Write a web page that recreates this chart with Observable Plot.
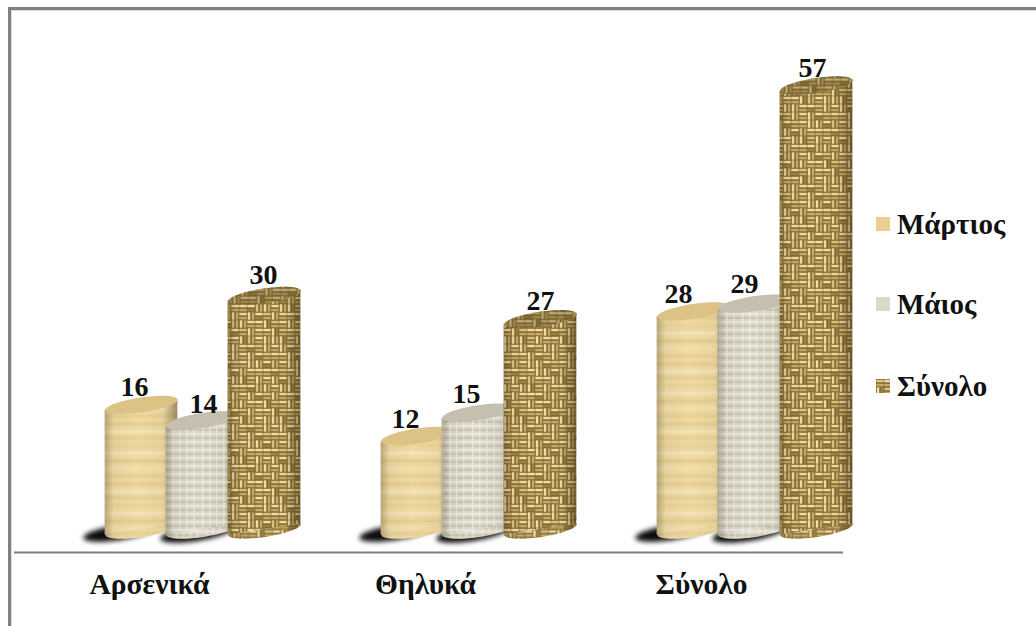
<!DOCTYPE html>
<html><head><meta charset="utf-8">
<script src="https://cdn.jsdelivr.net/npm/d3@7"></script>
<script src="https://cdn.jsdelivr.net/npm/@observablehq/plot@0.6"></script>
<style>
html,body{margin:0;padding:0;background:#fff}
#wrap{position:relative;width:1036px;height:626px;overflow:hidden;font-family:"Liberation Serif",serif}
#frame{position:absolute;left:8px;top:7px;right:0;bottom:0;border-top:3px solid #808080;border-left:3px solid #808080;box-shadow:inset 1px 1px 0 #dcdcdc;pointer-events:none}
#legend{position:absolute;left:876px;top:0}
#legend .row{position:absolute;left:0;display:flex;align-items:center;white-space:nowrap;font-weight:bold;font-size:29px;color:#111;height:30px}
#legend svg{margin-right:7px;display:block}
</style></head><body>
<div id="wrap"><div id="frame"></div><div id="legend"></div></div>
<script>
const categories = ["Αρσενικά", "Θηλυκά", "Σύνολο"];
const seriesNames = ["Μάρτιος", "Μάιος", "Σύνολο"];
const martios = [16, 12, 28];
const maios = [14, 15, 29];
const synolo = [30, 27, 57];
const seriesValues = [martios, maios, synolo];

const offsets = [-12, 49, 111];
const labelNudgeX = [[-7, -12, -15], [1, -12, -10], [-1, 0, -4]];
const labelNudgeY = [[-18, -17, -17], [-16, -19, -20], [-21, -18, -17]];
const fills = ["url(#tex0)", "url(#tex1)", "url(#tex2)"];
const caps = ["#dcc284", "#c4bfae", "url(#tex2)"];

const A = 36.5, B = 7.5, DEG = 8.5;
const rad = DEG * Math.PI / 180;
const cap = {draw(c){
  const k = 0.5523, cs = Math.cos(rad), sn = Math.sin(rad);
  const p = (u, v) => [u * cs + v * sn, -u * sn + v * cs];
  const pts = [[A,0],[A,k*B],[k*A,B],[0,B],[-k*A,B],[-A,k*B],[-A,0],[-A,-k*B],[-k*A,-B],[0,-B],[k*A,-B],[A,-k*B],[A,0]].map(q => p(...q));
  c.moveTo(...pts[0]);
  for (let i = 1; i < pts.length; i += 3) c.bezierCurveTo(...pts[i], ...pts[i+1], ...pts[i+2]);
  c.closePath();
}};
const sk = A * Math.tan(rad);
const slant = (index, scales, values, dims, context, next) => {
  const g = next(index, scales, values, dims, context);
  g.querySelectorAll("rect").forEach(r => {
    const x = +r.getAttribute("x"), y = +r.getAttribute("y"), w = +r.getAttribute("width"), h = +r.getAttribute("height");
    const p = document.createElementNS("http://www.w3.org/2000/svg", "path");
    p.setAttribute("d", `M${x},${y+sk}L${x+w},${y-sk}L${x+w},${y+h-sk}L${x},${y+h+sk}Z`);
    r.replaceWith(p);
  });
  return g;
};

// texture tiles (style only, no data)
const weaveRows = [
  "hhvhhvvhhv",
  "vhhhvhhvhh",
  "vvhvhhvvhv",
  "hvhhvvhhhv",
  "hhvhhvhvhh",
  "vhvvhhhvvh",
  "hhhvvhvhhh",
  "vhvhhvvhvh",
  "hvvhvhhhvv",
  "vhhhvvhvhh"
];
const defsMark = () => {
  const defs = d3.create("svg:defs");
  const grad = defs.append("linearGradient").attr("id","shade");
  [[0,.28],[.12,.05],[.45,0],[.8,.04],[1,.42]].forEach(([o,a]) => grad.append("stop").attr("offset",o).attr("stop-color","#2a1c05").attr("stop-opacity",a));
  const soft = defs.append("filter").attr("id","soft").attr("x",0).attr("y",0).attr("width",1).attr("height",1);
  soft.append("feGaussianBlur").attr("stdDeviation",0.6);
  const soft2 = defs.append("filter").attr("id","soft2").attr("x",0).attr("y",0).attr("width",1).attr("height",1);
  soft2.append("feGaussianBlur").attr("stdDeviation",1.1);
  // yellow paper
  const t0 = defs.append("pattern").attr("id","tex0").attr("patternUnits","userSpaceOnUse").attr("width",72).attr("height",60);
  const g0 = t0.append("g").attr("filter","url(#soft2)");
  g0.append("rect").attr("x",-4).attr("y",-4).attr("width",80).attr("height",68).attr("fill","#efdaa2");
  [[3,"#e2c88c",2],[10,"#f6e7ba",3],[17,"#dfc587",1.5],[24,"#ebd398",3],[32,"#f7eac4",2],[40,"#e0c688",2],[47,"#f3e2b0",3],[55,"#e4cb8e",2]].forEach(([y,c,h]) => g0.append("rect").attr("x",-4).attr("y",y).attr("width",80).attr("height",h).attr("fill",c));
  // pale grey linen
  const t1 = defs.append("pattern").attr("id","tex1").attr("patternUnits","userSpaceOnUse").attr("width",30).attr("height",32);
  const g1 = t1.append("g").attr("filter","url(#soft)");
  g1.append("rect").attr("x",-2).attr("y",-2).attr("width",34).attr("height",36).attr("fill","#dcd8c9");
  for (let y = 1; y < 32; y += 4) g1.append("rect").attr("y",y).attr("width",30).attr("height",1.6).attr("fill",y % 8 === 1 ? "#efece0" : "#c6c2b0");
  for (let x = 3; x < 30; x += 7) g1.append("rect").attr("x",x).attr("width",1.6).attr("height",32).attr("fill","#f4f2ea").attr("opacity",.55);
  // basket weave
  const C = 8, n = 10;
  const t2 = defs.append("pattern").attr("id","tex2").attr("patternUnits","userSpaceOnUse").attr("width",C*n).attr("height",C*n);
  const w = t2.append("g").attr("filter","url(#soft)");
  w.append("rect").attr("width",C*n).attr("height",C*n).attr("fill","#83682f");
  weaveRows.forEach((row, j) => [...row].forEach((o, i) => {
    const mid = (i * 3 + j * 7) % 5;
    const strip = (k) => {
      const col = k === 0 ? (mid === 0 ? "#dcc485" : "#f0dfa9") : (mid === 2 ? "#9c8243" : "#c6aa68");
      const r = w.append("rect").attr("fill", col);
      if (o === "h") r.attr("x",i*C+.3).attr("y",j*C+.8+k*4).attr("width",C-.6).attr("height",2.5);
      else r.attr("x",i*C+.8+k*4).attr("y",j*C+.3).attr("width",2.5).attr("height",C-.6);
    };
    strip(0); strip(1);
  }));
  return defs.node();
};

const rows = s => categories.map((c, i) => ({category: c, value: seriesValues[s][i]}));
const common = s => ({x: "category", dx: offsets[s]});
const inset = (276.33 - 2 * A) / 2;

const marks = [defsMark];
marks.push(Plot.ruleY([0], {dy: 23, stroke: "#7c7c7c", strokeWidth: 2}));
marks.push(Plot.axisX({anchor: "bottom", tickSize: 0, tickPadding: 44, dx: -4, fontSize: 29.5, fontWeight: "bold", fill: "#111", label: null}));
// ground shadows
[[-22, 3], [-6, 4]].forEach(([sx, sy], s) => {
  marks.push(Plot.dot(rows(s), {x: "category", y: () => 0, dx: offsets[s] + sx, dy: sy, symbol: cap, fill: "#0c0c0c", imageFilter: "blur(2.5px)"}));
});
// cylinders
seriesValues.forEach((_, s) => {
  const d = rows(s);
  marks.push(Plot.dot(d, {...common(s), y: () => 0, symbol: cap, fill: fills[s]}));
  marks.push(Plot.dot(d, {...common(s), y: () => 0, symbol: cap, fill: "url(#shade)"}));
  marks.push(Plot.barY(d, {...common(s), y: "value", fill: fills[s], insetLeft: inset, insetRight: inset, render: slant}));
  marks.push(Plot.barY(d, {...common(s), y: "value", fill: "url(#shade)", insetLeft: inset, insetRight: inset, render: slant}));
  marks.push(Plot.dot(d, {...common(s), y: "value", symbol: cap, fill: caps[s]}));
  if (s === 2) marks.push(Plot.dot(d, {...common(s), y: "value", symbol: cap, fill: "#4a3a14", fillOpacity: .3}));
});
// value labels
seriesValues.forEach((vals, s) => vals.forEach((v, i) => {
  marks.push(Plot.text([{category: categories[i], value: v}], {x: "category", y: "value", text: "value", dx: offsets[s] + labelNudgeX[s][i], dy: labelNudgeY[s][i], fontSize: 28, fontWeight: "bold", fill: "#111"}));
}));

const chart = Plot.plot({
  width: 1036, height: 626,
  marginLeft: 14, marginRight: 193, marginTop: 85, marginBottom: 97,
  style: {fontFamily: '"Liberation Serif", serif', background: "transparent", overflow: "visible"},
  x: {domain: categories, padding: 0, align: 0.5, axis: null},
  y: {domain: [0, 57], axis: null},
  marks
});
const wrap = document.getElementById("wrap");
wrap.insertBefore(chart, wrap.firstChild);

// legend
const legend = d3.select("#legend");
const legendTops = [209, 289, 371];
const legendFills = ["#eccf8e", "#dcd9c9", "url(#tex2)"];
seriesNames.forEach((n, i) => {
  const row = legend.append("div").attr("class", "row").style("top", legendTops[i] + "px");
  row.append("svg").attr("width", 14).attr("height", 14).append("rect").attr("width", 14).attr("height", 14).attr("fill", legendFills[i]);
  row.append("span").text(n);
});
</script>
</body></html>
